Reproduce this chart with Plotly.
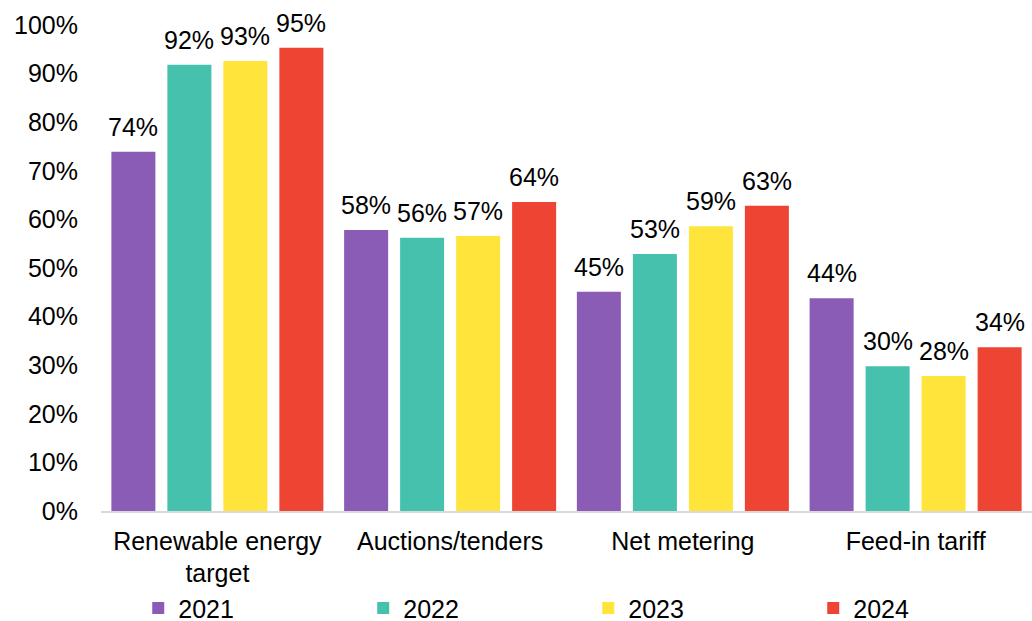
import plotly.graph_objects as go

categories = ["Renewable energy<br>target", "Auctions/tenders", "Net metering", "Feed-in tariff"]
years = ["2021", "2022", "2023", "2024"]
values = {
    "2021": [0.739, 0.578, 0.451, 0.438],
    "2022": [0.918, 0.562, 0.529, 0.298],
    "2023": [0.926, 0.566, 0.586, 0.278],
    "2024": [0.953, 0.636, 0.628, 0.337],
}
colors = {"2021": "#8B5CB5", "2022": "#45C1AE", "2023": "#FFE53B", "2024": "#EE4433"}

FONT = "Liberation Sans, Arial, sans-serif"
FS = 25

fig = go.Figure()
for y in years:
    fig.add_trace(go.Bar(
        name=y, x=categories, y=values[y],
        marker=dict(color=colors[y], line=dict(width=0)),
    ))

slot = 56
for i, y in enumerate(years):
    for c, v in zip(categories, values[y]):
        fig.add_annotation(
            x=c, y=v, xref="x", yref="y",
            text=f"{round(v*100):.0f}%",
            showarrow=False, yanchor="bottom",
            xshift=(i - 1.5) * slot, yshift=9,
            font=dict(family=FONT, size=FS, color="#000000"),
        )

fig.update_layout(
    width=1032, height=621,
    margin=dict(l=101, r=0, t=25, b=110, autoexpand=False),
    paper_bgcolor="white", plot_bgcolor="white",
    barmode="group", bargap=0.0376, bargroupgap=0.214,
    font=dict(family=FONT, size=FS, color="#000000"),
    showlegend=True,
    legend=dict(
        orientation="h", x=0.04, xanchor="left", y=-0.153, yanchor="top",
        entrywidth=180, entrywidthmode="pixels",
        bgcolor="rgba(0,0,0,0)",
        font=dict(family=FONT, size=FS, color="#000000"),
        itemsizing="constant", tracegroupgap=0,
    ),
)
fig.update_xaxes(
    showgrid=False, showline=True, linecolor="#D9D9D9", linewidth=1.5,
    ticks="", ticklabelstandoff=7,
    tickfont=dict(family=FONT, size=FS, color="#000000"),
)
fig.update_yaxes(
    range=[0, 1], tickvals=[i / 10 for i in range(11)], tickformat=".0%",
    showgrid=False, showline=False, zeroline=False, ticks="",
    ticklabelstandoff=22,
    tickfont=dict(family=FONT, size=FS, color="#000000"),
)

fig.write_html("out.html")
